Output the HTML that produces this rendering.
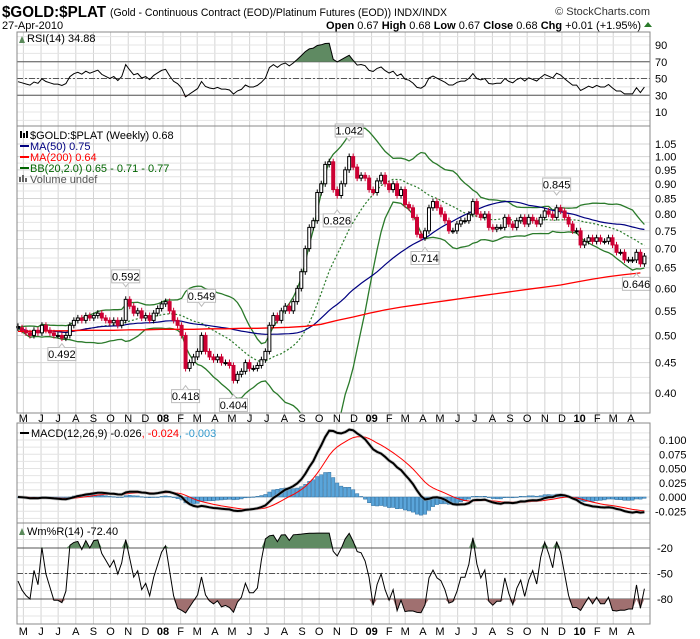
<!DOCTYPE html>
<html><head><meta charset="utf-8"><style>
html,body{margin:0;padding:0;background:#fff;}
svg{display:block;font-family:"Liberation Sans",sans-serif;}
</style></head><body>
<svg id="chart" width="700" height="639" viewBox="0 0 700 639" xmlns="http://www.w3.org/2000/svg">
<defs>
<clipPath id="clipMain"><rect x="17" y="126" width="633" height="287"/></clipPath>
<clipPath id="clipRsi"><rect x="17" y="32" width="633" height="94"/></clipPath>
<clipPath id="clipMacd"><rect x="17" y="423" width="633" height="100"/></clipPath>
<clipPath id="clipWr"><rect x="17" y="523" width="633" height="101"/></clipPath>
</defs>
<rect x="0" y="0" width="700" height="639" fill="#fff"/>
<text x="2" y="17" font-size="16" font-weight="bold" textLength="104" lengthAdjust="spacingAndGlyphs">$GOLD:$PLAT</text>
<text x="110" y="16" font-size="11" textLength="337" lengthAdjust="spacingAndGlyphs">(Gold - Continuous Contract (EOD)/Platinum Futures (EOD))  INDX/INDX</text>
<text x="650" y="15" font-size="11" text-anchor="end" fill="#333">© StockCharts.com</text>
<text x="2" y="29" font-size="11">27-Apr-2010</text>
<text x="641" y="29" font-size="11" text-anchor="end"><tspan font-weight="bold">Open</tspan> 0.67  <tspan font-weight="bold">High</tspan> 0.68  <tspan font-weight="bold">Low</tspan> 0.67  <tspan font-weight="bold">Close</tspan> 0.68  <tspan font-weight="bold">Chg</tspan> +0.01 (+1.95%)</text>
<path d="M644 27 L648 22 L652 27 Z" fill="#2a7a2a"/>
<g id="grid"></g>
<g id="marks"></g>
<rect x="17" y="32" width="633" height="94" fill="none" stroke="#888"/>
<rect x="17" y="126" width="633" height="287" fill="none" stroke="#888"/>
<rect x="17" y="423" width="633" height="100" fill="none" stroke="#888"/>
<rect x="17" y="523" width="633" height="101" fill="none" stroke="#888"/>
<g font-size="11">
<text x="30" y="139">$GOLD:$PLAT (Weekly) 0.68</text>
<path d="M21 131v7M24 133v5M27 131v7" stroke="#000" stroke-width="2"/>
<line x1="20" y1="146" x2="29" y2="146" stroke="#000080" stroke-width="2"/>
<text x="30" y="150" fill="#000080">MA(50) 0.75</text>
<line x1="20" y1="157" x2="29" y2="157" stroke="#f00" stroke-width="2"/>
<text x="30" y="161" fill="#f00">MA(200) 0.64</text>
<line x1="20" y1="168" x2="29" y2="168" stroke="#006400" stroke-width="2"/>
<text x="30" y="172" fill="#006400">BB(20,2.0) 0.65 - 0.71 - 0.77</text>
<path d="M20 182v-5M23 182v-7M26 182v-4" stroke="#666" stroke-width="2"/>
<text x="30" y="183" fill="#555">Volume undef</text>
</g>
<path d="M19 43l3-7 3 7z" fill="#5a8a5a"/>
<text x="27" y="42" font-size="11">RSI(14) 34.88</text>
<line x1="20" y1="433" x2="29" y2="433" stroke="#000" stroke-width="2"/>
<text x="31" y="437" font-size="11">MACD(12,26,9) -0.026<tspan fill="#f00">, -0.024</tspan><tspan fill="#3399cc">, -0.003</tspan></text>
<path d="M19 535l3-7 3 7z" fill="#5a8a5a"/>
<text x="27" y="535" font-size="11">Wm%R(14) -72.40</text>
</svg>
<script>
const NS='http://www.w3.org/2000/svg';
// weekly closes, Apr 2007 .. Apr 2010
const closes=[0.515,0.51,0.505,0.50,0.51,0.505,0.52,0.51,0.505,0.50,0.50,0.495,0.50,
0.52,0.53,0.535,0.53,0.54,0.535,0.54,0.545,0.535,0.53,0.525,0.53,0.52,0.53,0.575,0.56,0.545,0.55,0.535,0.54,0.53,0.545,0.555,
0.565,0.57,0.55,0.53,0.52,
0.50,0.44,0.45,0.46,0.47,0.50,0.47,0.46,
0.455,0.46,0.45,0.45,0.445,0.42,0.43,0.435,
0.45,0.44,0.44,0.445,0.455,0.47,0.52,0.54,
0.53,0.55,0.56,0.55,0.57,0.60,0.64,0.70,0.76,0.78,0.87,0.90,0.97,0.98,0.88,0.86,0.90,0.95,1.00,0.96,0.92,0.93,0.92,0.88,
0.87,0.91,0.93,0.90,0.88,0.90,0.86,0.88,0.83,0.82,0.79,0.74,0.73,0.75,0.82,0.84,0.82,0.80,
0.78,0.75,0.75,0.77,0.78,0.78,0.80,0.84,0.80,0.79,0.80,0.76,0.755,0.76,0.76,0.79,0.77,0.76,0.78,0.79,0.77,0.79,0.78,0.77,0.79,0.81,0.80,0.79,0.82,0.81,0.79,0.77,0.75,0.75,0.71,0.72,0.73,0.72,0.73,0.72,0.72,0.73,0.71,0.69,0.69,0.67,0.67,0.67,0.69,0.66,0.68];
// MA(200) read every 4 weeks
const ma200=[0.508,0.508,0.509,0.509,0.51,0.51,0.51,0.511,0.511,0.512,0.512,0.512,0.513,0.513,0.514,0.514,0.515,0.516,0.518,0.522,0.53,0.537,0.545,0.552,0.558,0.563,0.568,0.573,0.578,0.583,0.588,0.593,0.598,0.603,0.608,0.615,0.622,0.628,0.633,0.637];
const priceTicks=[1.05,1.00,0.95,0.90,0.85,0.80,0.75,0.70,0.65,0.60,0.55,0.50,0.45,0.40];
const rsiTicks=[90,70,50,30,10];
const macdTicks=[0.100,0.075,0.050,0.025,0.000,-0.025];
const wrTicks=[-20,-50,-80];
const annWeeks=[27,11,46,42,54,83,80,102,135,155];
const annValues=[0.592,0.492,0.549,0.418,0.404,1.042,0.826,0.714,0.845,0.646];
const annSide=['a','b','a','b','b','a','b','b','a','b'];

const svg=document.getElementById('chart');
const grid=document.getElementById('grid');
const marks=document.getElementById('marks');
function mk(tag,attrs,parent){const e=document.createElementNS(NS,tag);for(const k in attrs)e.setAttribute(k,attrs[k]);(parent||svg).appendChild(e);return e;}
const N=closes.length;
const xW=i=>18+3.99*i;
const yM=v=>144+258*Math.log(1.05/v);
const yR=v=>45+(90-v)*0.8375;
const yC=v=>497-v*570;
const yW=v=>548+(-20-v)*0.85;
const X0=17,X1=650;
const d0=Date.UTC(2008,0,1);
const xD=t=>163+(t-d0)/86400000*0.5699;

const opens=closes.map((c,i)=>i?closes[i-1]:c*1.005);
const highs=closes.map((c,i)=>Math.max(c,opens[i])*1.012);
const lows=closes.map((c,i)=>Math.min(c,opens[i])/1.012);

const ma50=[],bbU=[],bbM=[],bbL=[];
for(let i=0;i<N;i++){
  let s=0,n=0;for(let j=Math.max(0,i-49);j<=i;j++){s+=closes[j];n++;}ma50.push(s/n);
  s=0;n=0;for(let j=Math.max(0,i-19);j<=i;j++){s+=closes[j];n++;}const m=s/n;
  let q=0;for(let j=Math.max(0,i-19);j<=i;j++)q+=(closes[j]-m)**2;const sd=Math.sqrt(q/n);
  bbM.push(m);bbU.push(m+2*sd);bbL.push(m-2*sd);
}
let ag=0.006,al=0.007;const rsi=[100-100/(1+ag/al)];
for(let i=1;i<N;i++){const d=closes[i]-closes[i-1];const g=Math.max(d,0),l=Math.max(-d,0);
  ag=(ag*13+g)/14;al=(al*13+l)/14;rsi.push(al===0?100:100-100/(1+ag/al));}
let e12=closes[0],e26=closes[0];const macd=[],sig=[],hist=[];let s9=0;
for(let i=0;i<N;i++){e12+=(closes[i]-e12)*2/13;e26+=(closes[i]-e26)*2/27;const m=e12-e26;
  s9=i?s9+(m-s9)*0.2:m;macd.push(m);sig.push(s9);hist.push(m-s9);}
const wr=[];
for(let i=0;i<N;i++){let hh=-1,ll=9;for(let j=Math.max(0,i-13);j<=i;j++){hh=Math.max(hh,highs[j]);ll=Math.min(ll,lows[j]);}
  wr.push(hh===ll?-50:(hh-closes[i])/(hh-ll)*-100);}

const mNames=['J','F','M','A','M','J','J','A','S','O','N','D'];
for(let y=2007,m=4;y<2010||(y===2010&&m<=3);){
  const x=xD(Date.UTC(y,m,1));
  const gl=mk('line',{x1:x,x2:x,y1:32,y2:624,stroke:'#d4d4d4','stroke-width':1},grid);
  
  
  const lab=m===0?String(y).slice(2):mNames[m];
  for(const ty of [422,635]){
    const t=mk('text',{x:x,y:ty,'font-size':11,'text-anchor':'middle','font-weight':m===0?'bold':'normal'},svg);
    t.textContent=lab;
    
    
  }
  m++;if(m>11){m=0;y++;}
}
function hline(y,stroke,dash,name,w){const l=mk('line',{x1:X0,x2:X1,y1:y,y2:y,stroke:stroke,'stroke-width':w||1},grid);if(dash)l.setAttribute('stroke-dasharray',dash);
  
  return l;}
function ylab(y,txt,name,x){const t=mk('text',{x:x||655,y:y+4,'font-size':11},svg);t.textContent=txt;
  
  }
for(const v of priceTicks){hline(yM(v),'#d4d4d4',null,'price-gridline');ylab(yM(v),v.toFixed(2),'price-axis-label');}
for(let v=0.425;v<1.01;v+=0.05){hline(yM(v),'#e4e4e4',null,'price-minor-gridline');}
for(let v=0;v<=100;v+=10){hline(yR(v),'#e4e4e4',null,'rsi-gridline');}
for(const v of rsiTicks){ylab(yR(v),String(v),'rsi-axis-label');}
hline(yR(70),'#555',null,'rsi-overbought-line');hline(yR(30),'#555',null,'rsi-oversold-line');hline(yR(50),'#555','6,2,2,2','rsi-midline');
for(let v=-0.0375;v<=0.1126;v+=0.0125){hline(yC(v),'#e4e4e4',null,'macd-gridline');}
for(const v of macdTicks){ylab(yC(v),v.toFixed(3),'macd-axis-label',v<0?655:659);}
for(let v=-10;v>=-100;v-=10){hline(yW(v),'#e4e4e4',null,'williams-gridline');}
for(const v of wrTicks){ylab(yW(v),String(v),'williams-axis-label',657);}
hline(yW(-20),'#555',null,'williams-upper-line');hline(yW(-80),'#555',null,'williams-lower-line');hline(yW(-50),'#555','6,2,2,2','williams-midline');

function poly(vals,xf,yf,attrs,name,clip){const p=vals.map((v,i)=>xf(i).toFixed(1)+','+yf(v).toFixed(1)).join(' ');
  const e=mk('polyline',Object.assign({points:p,fill:'none'},attrs),marks);if(clip)e.setAttribute('clip-path','url(#'+clip+')');
  
  return e;}
function band(vals,yf,lvl,above,color,name,clip){
  const yl=yf(lvl);let p=xW(0)+','+yl+' ';
  vals.forEach((v,i)=>{let y=yf(v);y=above?Math.min(y,yl):Math.max(y,yl);p+=xW(i).toFixed(1)+','+y.toFixed(1)+' ';});
  p+=xW(N-1)+','+yl;
  const e=mk('polygon',{points:p,fill:color,stroke:'none'},marks);e.setAttribute('clip-path','url(#'+clip+')');
  
  }

band(rsi,yR,70,true,'#5f8a62','rsi-overbought-fill','clipRsi');
band(rsi,yR,30,false,'#a07070','rsi-oversold-fill','clipRsi');
poly(rsi,xW,yR,{stroke:'#000','stroke-width':1},'rsi-line','clipRsi');

poly(bbU,xW,yM,{stroke:'#2a7a2a','stroke-width':1.3},'bb-upper-band','clipMain');
poly(bbL,xW,yM,{stroke:'#2a7a2a','stroke-width':1.3},'bb-lower-band','clipMain');
poly(bbM,xW,yM,{stroke:'#2a7a2a','stroke-width':1.2,'stroke-dasharray':'2,2'},'bb-middle-band','clipMain');
poly(ma50,xW,yM,{stroke:'#000080','stroke-width':1.2},'ma50-line','clipMain');
poly(ma200,i=>xW(4*i),yM,{stroke:'#f00','stroke-width':1.3},'ma200-line','clipMain');

for(let i=0;i<N;i++){
  const x=xW(i),o=opens[i],c=closes[i];
  const col=(i>0&&c<closes[i-1])?'#cc0033':'#000';
  const w=mk('line',{x1:x,x2:x,y1:yM(highs[i]),y2:yM(lows[i]),stroke:col,'stroke-width':1},marks);
  
  
  const top=yM(Math.max(o,c)),bot=yM(Math.min(o,c));
  const b=mk('rect',{x:x-1.5,y:top,width:3,height:Math.max(1,bot-top),fill:c>o?'#fff':col,stroke:col,'stroke-width':1},marks);
  
  
}
annWeeks.forEach((wk,k)=>{
  const x=xW(wk),v=annValues[k],above=annSide[k]==='a';
  const yv=yM(v);const by=above?yv-22:yv+8;
  const g=mk('g',{},marks);
  
  
  mk('rect',{x:x-14,y:by,width:28,height:13,fill:'#fff',stroke:'#bbb'},g);
  mk('path',{d:above?`M${x-3} ${by+13}L${x} ${by+17}L${x+3} ${by+13}`:`M${x-3} ${by}L${x} ${by-4}L${x+3} ${by}`,fill:'#fff',stroke:'#bbb'},g);
  const t=mk('text',{x:x,y:by+10.5,'font-size':11,'text-anchor':'middle'},g);t.textContent=v.toFixed(3);
});

hist.forEach((h,i)=>{const y0=yC(0),y1=yC(h);
  const r=mk('rect',{x:xW(i)-1.7,y:Math.min(y0,y1),width:3.4,height:Math.max(0.5,Math.abs(y1-y0)),fill:'#5aa5da',stroke:'#2f6f9f','stroke-width':0.5},marks);
  r.setAttribute('clip-path','url(#clipMacd)');
  
  });
poly(sig,xW,yC,{stroke:'#f00','stroke-width':1},'macd-signal-line','clipMacd');
poly(macd,xW,yC,{stroke:'#999','stroke-width':3.5,opacity:0.5},'macd-line-shadow','clipMacd');
poly(macd,xW,yC,{stroke:'#000','stroke-width':2},'macd-line','clipMacd');

band(wr,yW,-20,true,'#5f8a62','williams-overbought-fill','clipWr');
band(wr,yW,-80,false,'#a07070','williams-oversold-fill','clipWr');
poly(wr,xW,yW,{stroke:'#000','stroke-width':1},'williams-line','clipWr');
</script>
</body></html>
